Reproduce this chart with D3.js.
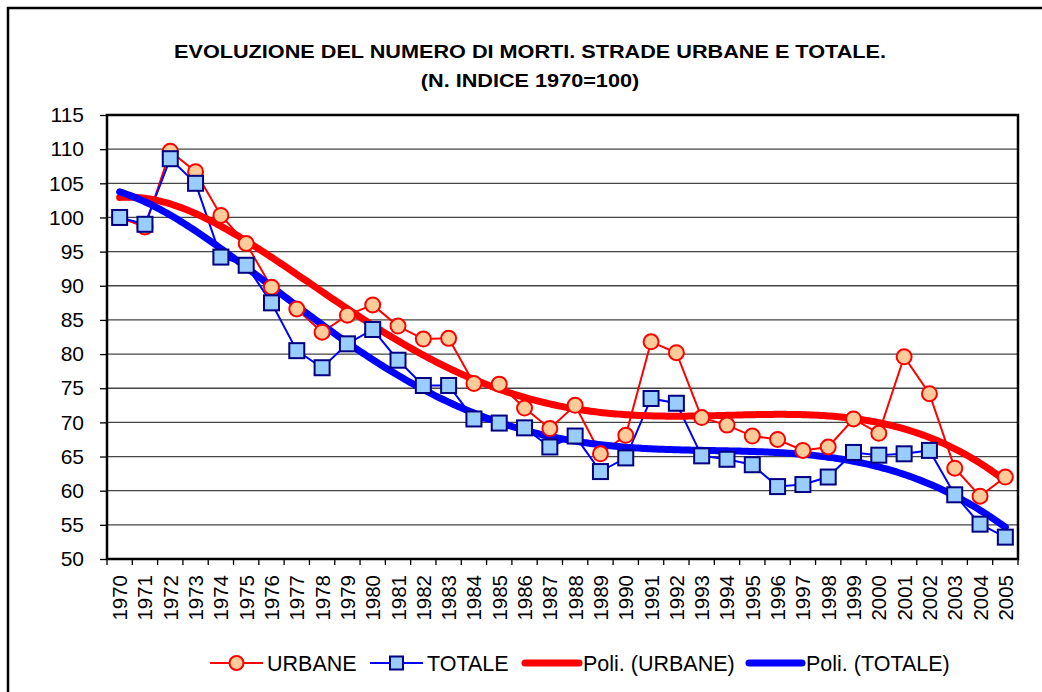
<!DOCTYPE html>
<html>
<head>
<meta charset="utf-8">
<script src="https://cdn.jsdelivr.net/npm/d3@7"></script>
<style>
  body { margin: 0; background: #fff; }
  svg { font-family: Arial, "Liberation Sans", sans-serif; }
</style>
</head>
<body>
<div class="container"></div>
<script>
const width = 1042;
const height = 692;

const years = d3.range(1970, 2006).map(String);

const urbane = [100, 98.6, 109.7, 106.7, 100.3, 96.2, 89.8, 86.6, 83.2, 85.7,
  87.2, 84.1, 82.2, 82.3, 75.7, 75.6, 72.1, 69.1, 72.5, 65.4,
  68.1, 81.8, 80.2, 70.7, 69.6, 68.0, 67.5, 65.9, 66.4, 70.5,
  68.4, 79.6, 74.2, 63.3, 59.2, 62.0];

const totale = [100, 99.0, 108.6, 105.0, 94.2, 93.0, 87.5, 80.5, 78.0, 81.5,
  83.6, 79.1, 75.4, 75.4, 70.5, 69.9, 69.2, 66.4, 68.0, 62.8,
  64.8, 73.5, 72.8, 65.1, 64.6, 63.8, 60.6, 60.9, 62.0, 65.6,
  65.2, 65.4, 65.9, 59.4, 55.1, 53.2];

const yTicks = d3.range(50, 116, 5);
const polyDegree = 5;

const margin = { left: 107, right: 24, top: 115, bottom: 133 };

const svg = d3.select('.container')
  .append('svg')
  .attr('width', width)
  .attr('height', height);

// chart frame
svg.append('rect')
  .attr('x', 8).attr('y', 8)
  .attr('width', 1040).attr('height', 700)
  .attr('fill', '#fff')
  .attr('stroke', '#000')
  .attr('stroke-width', 2.5);

const title = svg.append('g')
  .attr('transform', 'translate(530,0) scale(1.14,1)')
  .attr('font-size', 19).attr('font-weight', 'bold')
  .attr('text-anchor', 'middle');
title.append('text').attr('y', 58)
  .text('EVOLUZIONE DEL NUMERO DI MORTI. STRADE URBANE E TOTALE.');
title.append('text').attr('y', 87)
  .text('(N. INDICE 1970=100)');

const x = d3.scaleBand()
  .domain(years)
  .range([margin.left, width - margin.right]);

const y = d3.scaleLinear()
  .domain([50, 115])
  .range([height - margin.bottom, margin.top]);

const cx = d => x(d) + x.bandwidth() / 2;

// grid
svg.append('g')
  .selectAll('line')
  .data(yTicks.slice(1))
  .enter()
  .append('line')
  .attr('x1', margin.left).attr('x2', width - margin.right)
  .attr('y1', d => y(d)).attr('y2', d => y(d))
  .attr('stroke', '#444')
  .attr('stroke-width', 1.3);

// y axis
const yAxis = svg.append('g')
  .attr('transform', `translate(${margin.left},0)`)
  .call(d3.axisLeft(y).tickValues(yTicks).tickSize(7).tickPadding(16));
yAxis.select('.domain').remove();
yAxis.selectAll('line').attr('stroke', '#000').attr('stroke-width', 1.3);
yAxis.selectAll('text').attr('font-size', 21).attr('fill', '#000')
  .attr('font-family', 'Arial, "Liberation Sans", sans-serif');

// x axis: ticks between categories
const xAxis = svg.append('g')
  .attr('transform', `translate(0,${height - margin.bottom})`);
xAxis.selectAll('line')
  .data(d3.range(years.length + 1))
  .enter()
  .append('line')
  .attr('x1', i => margin.left + i * x.step())
  .attr('x2', i => margin.left + i * x.step())
  .attr('y1', 0).attr('y2', 6)
  .attr('stroke', '#000')
  .attr('stroke-width', 1.3);
xAxis.selectAll('text')
  .data(years)
  .enter()
  .append('text')
  .attr('transform', d => `translate(${cx(d) + 7.5},16) rotate(-90)`)
  .attr('text-anchor', 'end')
  .attr('font-size', 20.5)
  .text(d => d);

// plot border
svg.append('rect')
  .attr('x', margin.left).attr('y', margin.top)
  .attr('width', width - margin.left - margin.right)
  .attr('height', height - margin.top - margin.bottom)
  .attr('fill', 'none')
  .attr('stroke', '#000')
  .attr('stroke-width', 2.5);

// least squares polynomial, x normalized to [-1, 1]
function polyFit(values, deg) {
  const n = values.length;
  const xs = values.map((_, i) => (2 * i) / (n - 1) - 1);
  const m = deg + 1;
  const A = d3.range(m).map(() => new Array(m + 1).fill(0));
  xs.forEach((xv, k) => {
    for (let i = 0; i < m; i++) {
      for (let j = 0; j < m; j++) A[i][j] += Math.pow(xv, i + j);
      A[i][m] += Math.pow(xv, i) * values[k];
    }
  });
  for (let c = 0; c < m; c++) {
    let p = c;
    for (let r = c + 1; r < m; r++) if (Math.abs(A[r][c]) > Math.abs(A[p][c])) p = r;
    [A[c], A[p]] = [A[p], A[c]];
    for (let r = 0; r < m; r++) {
      if (r === c) continue;
      const f = A[r][c] / A[c][c];
      for (let j = c; j <= m; j++) A[r][j] -= f * A[c][j];
    }
  }
  const coef = A.map((row, i) => row[m] / row[i]);
  return t => coef.reduce((s, a, i) => s + a * Math.pow(t, i), 0);
}

function trendPoints(values) {
  const f = polyFit(values, polyDegree);
  const n = values.length;
  return d3.range(0, n - 1 + 0.001, 0.1).map(i => [
    margin.left + x.step() / 2 + i * x.step(),
    y(f((2 * i) / (n - 1) - 1))
  ]);
}

const line = d3.line()
  .x((d, i) => cx(years[i]))
  .y(d => y(d));

svg.append('path')
  .datum(urbane)
  .attr('d', line)
  .attr('fill', 'none')
  .attr('stroke', '#ff0000')
  .attr('stroke-width', 2);

svg.append('path')
  .datum(totale)
  .attr('d', line)
  .attr('fill', 'none')
  .attr('stroke', '#0000ff')
  .attr('stroke-width', 2);

svg.append('path')
  .datum(trendPoints(urbane))
  .attr('d', d3.line())
  .attr('fill', 'none')
  .attr('stroke', '#ff0000')
  .attr('stroke-width', 7)
  .attr('stroke-linecap', 'round');

svg.append('path')
  .datum(trendPoints(totale))
  .attr('d', d3.line())
  .attr('fill', 'none')
  .attr('stroke', '#0000ff')
  .attr('stroke-width', 7)
  .attr('stroke-linecap', 'round');

svg.append('g')
  .selectAll('circle')
  .data(urbane)
  .enter()
  .append('circle')
  .attr('cx', (d, i) => cx(years[i]))
  .attr('cy', d => y(d))
  .attr('r', 7.5)
  .attr('fill', '#ffcc99')
  .attr('stroke', '#ff0000')
  .attr('stroke-width', 2);

svg.append('g')
  .selectAll('rect')
  .data(totale)
  .enter()
  .append('rect')
  .attr('x', (d, i) => cx(years[i]) - 7.5)
  .attr('y', d => y(d) - 7.5)
  .attr('width', 15).attr('height', 15)
  .attr('fill', '#99ccff')
  .attr('stroke', '#000080')
  .attr('stroke-width', 2);

// legend
const legend = svg.append('g').attr('transform', 'translate(0,663)');
const items = [
  { label: 'URBANE', x: 210, w: 53, color: '#ff0000', sw: 2, marker: 'circle' },
  { label: 'TOTALE', x: 370, w: 53, color: '#0000ff', sw: 2, marker: 'square' },
  { label: 'Poli. (URBANE)', x: 525, w: 54, color: '#ff0000', sw: 7 },
  { label: 'Poli. (TOTALE)', x: 749, w: 53, color: '#0000ff', sw: 7 }
];
items.forEach(it => {
  legend.append('line')
    .attr('x1', it.x).attr('x2', it.x + it.w)
    .attr('stroke', it.color)
    .attr('stroke-width', it.sw)
    .attr('stroke-linecap', it.sw > 2 ? 'round' : 'butt');
  if (it.marker === 'circle') {
    legend.append('circle')
      .attr('cx', it.x + it.w / 2).attr('r', 7)
      .attr('fill', '#ffcc99').attr('stroke', '#ff0000').attr('stroke-width', 2);
  } else if (it.marker === 'square') {
    legend.append('rect')
      .attr('x', it.x + it.w / 2 - 6.5).attr('y', -6.5)
      .attr('width', 13).attr('height', 13)
      .attr('fill', '#99ccff').attr('stroke', '#000080').attr('stroke-width', 2);
  }
  legend.append('text')
    .attr('x', it.x + it.w + 4).attr('y', 8)
    .attr('font-size', 21.5)
    .text(it.label);
});
</script>
</body>
</html>
